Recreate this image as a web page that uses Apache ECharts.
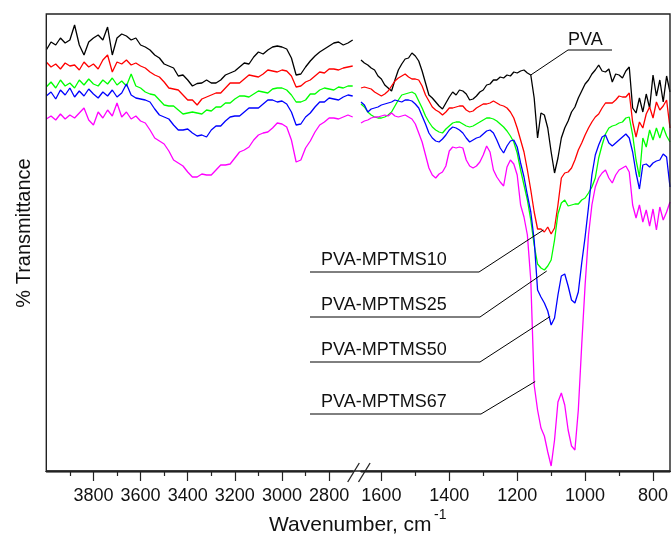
<!DOCTYPE html>
<html>
<head>
<meta charset="utf-8">
<script src="https://cdn.jsdelivr.net/npm/echarts@6/dist/echarts.min.js"></script>
<style>
  html, body { margin: 0; padding: 0; background: #fff; }
  #chart { width: 672px; height: 540px; }
</style>
</head>
<body>
<div id="chart"></div>
<script>
// wavenumbers (cm-1) for the two pieces of the broken axis
const wnLeft = [4000, 3980, 3960, 3940, 3920, 3900, 3880, 3860, 3840, 3820, 3800, 3780, 3760, 3740, 3720, 3700, 3680, 3660, 3640, 3620,
  3600, 3580, 3560, 3540, 3520, 3500, 3480, 3460, 3440, 3420, 3400, 3380, 3360, 3340, 3320, 3300, 3280, 3260, 3240, 3220,
  3200, 3180, 3160, 3140, 3120, 3100, 3080, 3060, 3040, 3020, 3000, 2980, 2960, 2940, 2920, 2900, 2880, 2860, 2840, 2820,
  2800, 2780, 2760, 2740, 2720, 2700];
const wnRight = [1660, 1650, 1640, 1630, 1620, 1610, 1600, 1590, 1580, 1570, 1560, 1550, 1540, 1530, 1520, 1510, 1500, 1490, 1480, 1470,
  1460, 1450, 1440, 1430, 1420, 1410, 1400, 1390, 1380, 1370, 1360, 1350, 1340, 1330, 1320, 1310, 1300, 1290, 1280, 1270,
  1260, 1250, 1240, 1230, 1220, 1210, 1200, 1190, 1180, 1170, 1160, 1150, 1140, 1130, 1120, 1110, 1100, 1090, 1080, 1070,
  1060, 1050, 1040, 1030, 1020, 1010, 1000, 990, 980, 970, 960, 950, 940, 930, 920, 910, 900, 890, 880, 870,
  860, 850, 840, 830, 820, 810, 800, 790, 780, 770, 760, 750];

// % transmittance (arbitrary offset scale)
const pvaLeft = [84.2, 85.8, 85.2, 86.6, 85.6, 86.2, 89.2, 85.2, 83.2, 85.8, 86.6, 87.2, 86.2, 88.8, 83.2, 86.6, 87.4, 87.0, 86.2, 86.6,
  85.2, 84.8, 84.2, 83.2, 82.6, 81.4, 81.0, 80.6, 79.0, 79.2, 78.2, 77.0, 77.5, 77.6, 78.2, 77.6, 77.6, 78.2, 79.2, 79.6,
  80.0, 80.8, 81.6, 81.4, 82.8, 83.8, 83.4, 84.2, 84.8, 85.0, 84.8, 84.4, 82.6, 79.2, 79.4, 80.8, 82.0, 83.0, 83.8, 84.4,
  85.0, 85.6, 85.8, 85.2, 85.6, 86.2];
const m10Left = [81.8, 80.8, 81.4, 80.4, 81.6, 81.0, 81.2, 80.2, 81.8, 80.8, 81.4, 80.4, 82.2, 83.2, 79.8, 81.8, 81.4, 82.2, 81.2, 81.6,
  81.0, 80.6, 79.8, 79.2, 78.8, 77.8, 76.6, 76.4, 76.2, 75.2, 74.2, 74.2, 73.2, 74.4, 74.8, 75.2, 75.6, 75.6, 76.6, 77.6,
  77.6, 77.6, 78.4, 79.2, 79.0, 78.8, 79.4, 80.2, 80.0, 79.8, 80.2, 80.0, 79.0, 76.8, 77.0, 77.8, 78.2, 79.0, 79.8, 79.6,
  80.4, 80.4, 80.2, 80.6, 80.8, 81.0];
const m25Left = [76.8, 77.8, 76.6, 78.2, 77.0, 77.6, 76.6, 78.2, 77.2, 78.4, 77.4, 77.0, 78.2, 77.4, 78.6, 77.2, 78.0, 77.0, 79.4, 77.0,
  76.6, 75.8, 75.4, 75.2, 74.2, 73.2, 73.0, 73.0, 72.2, 71.4, 71.6, 71.8, 71.6, 71.4, 72.2, 72.0, 72.8, 72.8, 73.6, 73.6,
  74.4, 75.0, 75.0, 74.8, 75.4, 76.0, 75.8, 75.6, 76.4, 76.6, 76.6, 76.2, 75.2, 73.8, 73.8, 74.2, 75.4, 75.4, 76.2, 76.6,
  76.4, 76.2, 76.8, 76.6, 77.0, 77.0];
const m50Left = [75.0, 75.8, 74.4, 76.2, 75.2, 76.6, 74.8, 76.0, 75.0, 76.4, 75.4, 74.6, 75.8, 75.0, 76.2, 74.8, 75.6, 77.4, 75.2, 74.6,
  74.4, 74.2, 73.8, 72.4, 71.2, 70.8, 70.4, 69.2, 68.2, 68.2, 68.4, 67.6, 67.0, 67.2, 66.8, 68.2, 69.0, 69.0, 70.0, 70.8,
  71.0, 71.0, 71.8, 72.6, 72.6, 72.6, 73.4, 74.2, 74.2, 73.8, 74.0, 73.4, 71.8, 69.2, 69.4, 70.8, 71.6, 72.8, 73.8, 73.8,
  74.6, 74.4, 74.2, 74.8, 75.2, 75.0];
const m67Left = [70.4, 71.0, 70.2, 71.4, 70.4, 71.2, 70.6, 71.6, 72.6, 70.2, 69.2, 71.8, 70.6, 72.2, 71.0, 73.6, 70.8, 71.8, 70.4, 71.0,
  70.0, 69.6, 68.2, 66.6, 66.0, 65.4, 64.0, 62.2, 61.6, 61.0, 59.8, 58.8, 58.8, 59.4, 59.2, 59.2, 60.2, 61.2, 61.2, 61.4,
  62.6, 63.8, 64.2, 64.8, 66.2, 67.2, 67.6, 67.8, 68.6, 69.6, 69.4, 68.8, 66.2, 61.8, 62.2, 64.6, 66.0, 67.8, 69.2, 69.8,
  70.6, 70.6, 70.4, 70.8, 71.2, 70.8];

const pvaRight = [82.2, 81.6, 81.2, 80.6, 80.2, 79.0, 78.4, 77.2, 76.6, 76.0, 78.2, 80.2, 81.4, 82.4, 82.6, 83.6, 83.0, 82.0, 80.0, 77.6,
  75.2, 74.6, 73.8, 73.0, 72.4, 73.6, 74.8, 75.8, 75.2, 76.2, 76.0, 75.4, 74.2, 74.4, 75.0, 75.8, 76.2, 77.2, 77.4, 78.2,
  78.2, 78.8, 78.6, 79.2, 79.0, 79.8, 79.6, 80.0, 80.2, 79.6, 79.2, 74.6, 66.6, 71.6, 71.2, 68.6, 63.8, 59.6, 62.6, 66.6,
  68.6, 70.0, 71.8, 72.8, 74.6, 76.0, 77.4, 78.2, 79.4, 80.2, 81.2, 80.0, 79.8, 80.4, 77.8, 79.4, 79.2, 78.6, 80.0, 80.8,
  72.6, 71.6, 74.6, 71.8, 75.4, 72.6, 79.2, 75.0, 78.2, 73.8, 79.0, 75.8];
const m10Right = [76.6, 76.8, 76.6, 76.4, 75.8, 75.4, 75.0, 75.4, 76.0, 77.0, 78.0, 78.6, 79.0, 79.4, 78.8, 78.4, 78.4, 78.2, 77.0, 75.2,
  74.0, 72.8, 72.2, 71.8, 71.2, 71.8, 72.6, 72.6, 72.8, 73.0, 73.0, 72.2, 71.8, 72.0, 72.6, 73.0, 73.4, 73.4, 73.6, 74.0,
  73.6, 73.2, 73.0, 72.6, 71.8, 70.6, 68.6, 66.2, 63.8, 60.2, 56.2, 51.8, 48.4, 48.4, 47.8, 48.8, 47.4, 48.6, 53.2, 58.6,
  59.6, 59.8, 60.6, 62.2, 64.2, 65.6, 67.2, 68.6, 69.8, 70.8, 71.4, 72.6, 73.6, 73.6, 73.6, 74.2, 75.0, 74.8, 74.8, 75.6,
  69.8, 66.8, 69.8, 68.6, 71.4, 72.8, 70.6, 73.8, 72.2, 73.0, 74.2, 68.6];
const m25Right = [73.4, 72.8, 71.8, 71.2, 70.8, 70.6, 70.6, 70.8, 71.2, 71.8, 73.0, 74.2, 75.2, 75.4, 75.6, 75.8, 75.4, 74.0, 72.6, 71.0,
  69.8, 68.8, 68.2, 67.8, 67.6, 68.4, 69.0, 69.6, 69.8, 69.8, 69.4, 69.0, 68.8, 69.0, 69.4, 69.8, 70.2, 70.6, 70.6, 70.4,
  70.0, 69.4, 68.8, 68.0, 67.0, 65.8, 63.6, 60.2, 57.2, 54.2, 50.2, 45.2, 41.4, 40.6, 40.2, 41.0, 42.2, 46.2, 51.4, 53.6,
  54.2, 53.0, 53.2, 53.4, 53.4, 54.2, 54.6, 55.6, 56.8, 58.6, 62.6, 65.2, 67.4, 68.6, 69.0, 69.2, 69.6, 69.8, 70.6, 70.8,
  67.2, 62.2, 58.8, 66.6, 64.8, 68.2, 66.2, 68.6, 66.6, 68.8, 67.0, 65.8];
const m50Right = [73.8, 73.2, 71.8, 72.4, 72.6, 72.8, 73.2, 73.4, 73.6, 73.8, 74.2, 74.0, 73.8, 74.2, 74.2, 74.0, 73.4, 72.6, 71.0, 69.4,
  67.6, 66.6, 66.0, 65.8, 66.4, 67.2, 68.2, 68.8, 68.6, 68.2, 67.6, 66.6, 65.8, 66.2, 66.6, 66.8, 67.4, 68.0, 68.2, 67.6,
  66.2, 64.6, 63.6, 65.0, 66.0, 66.2, 64.8, 61.6, 58.8, 55.2, 51.8, 46.2, 36.2, 34.8, 33.6, 32.0, 29.2, 30.6, 35.2, 39.0,
  39.4, 37.0, 34.2, 33.6, 35.8, 41.6, 46.8, 52.8, 59.2, 63.2, 65.2, 66.8, 67.2, 65.6, 65.0, 65.6, 66.2, 66.8, 67.4, 66.6,
  63.8, 59.6, 56.4, 61.2, 61.4, 60.8, 61.6, 62.0, 62.2, 63.4, 62.8, 56.8];
const m67Right = [69.6, 70.0, 70.2, 70.6, 70.8, 70.8, 71.0, 71.2, 71.0, 71.6, 71.0, 70.8, 71.0, 71.2, 70.8, 70.4, 69.4, 67.6, 65.8, 63.2,
  60.6, 59.2, 58.6, 59.4, 59.8, 61.0, 64.0, 64.8, 64.6, 64.8, 64.6, 62.2, 61.0, 60.6, 61.0, 61.8, 63.2, 65.0, 63.8, 60.2,
  58.8, 57.8, 57.0, 60.8, 62.2, 61.4, 59.2, 53.2, 50.8, 47.2, 38.2, 17.2, 12.2, 8.6, 7.0, 3.8, 1.0, 6.2, 13.8, 15.6,
  13.2, 8.2, 5.0, 4.2, 12.2, 25.2, 37.2, 47.2, 53.2, 56.8, 58.6, 59.6, 60.2, 58.6, 57.6, 59.2, 60.2, 60.6, 61.0, 59.8,
  53.2, 50.6, 53.2, 49.8, 52.2, 49.0, 52.4, 48.2, 52.8, 50.2, 51.8, 53.8];

const names = ['PVA', 'PVA-MPTMS10', 'PVA-MPTMS25', 'PVA-MPTMS50', 'PVA-MPTMS67'];
const colors = ['#000000', '#ff0000', '#00ff00', '#0000ff', '#ff00ff'];
const leftData = [pvaLeft, m10Left, m25Left, m50Left, m67Left];
const rightData = [pvaRight, m10Right, m25Right, m50Right, m67Right];

const majorLeft = [3800, 3600, 3400, 3200, 3000, 2800];
const minorLeft = [3900, 3700, 3500, 3300, 3100, 2900];
const majorRight = [1600, 1400, 1200, 1000, 800];
const minorRight = [1500, 1300, 1100, 900];

// where each leader line touches its curve: [wavenumber, transmittance]
const anchors = [[1160, 79.2], [1123, 48.2], [1113, 40.0], [1103, 30.9], [1147, 17.9]];

const FONT = '"Liberation Sans", Arial, sans-serif';
const chart = echarts.init(document.getElementById('chart'));

function pairs(xs, ys) {
  return xs.map((x, i) => [x, ys[i]]);
}

// one axis draws the labels, two more draw the long and the short ticks
function labelAxis(grid, min, max, ticks) {
  return {
    type: 'value', gridIndex: grid, position: 'bottom', min: min, max: max, inverse: true,
    axisLine: { show: true, onZero: false, lineStyle: { color: '#222', width: 1.4 } },
    splitLine: { show: false },
    axisTick: { show: false },
    axisLabel: { show: true, customValues: ticks, margin: 16, color: '#111', fontSize: 18, fontFamily: FONT,
      formatter: (v) => String(v) }
  };
}
function tickAxis(grid, min, max, ticks, len) {
  return {
    type: 'value', gridIndex: grid, position: 'bottom', min: min, max: max, inverse: true,
    axisLine: { show: true, onZero: false, lineStyle: { color: '#222', width: 1.4 } },
    splitLine: { show: false },
    axisTick: { show: true, inside: false, customValues: ticks, length: len, lineStyle: { color: '#222', width: 1.2 } },
    axisLabel: { show: false }
  };
}

const series = [];
names.forEach((n, i) => {
  series.push({
    name: n, type: 'line', xAxisIndex: 0, yAxisIndex: 0, data: pairs(wnLeft, leftData[i]),
    showSymbol: false, lineStyle: { color: colors[i], width: 1.3 }, z: 2
  });
  series.push({
    name: n, type: 'line', xAxisIndex: 3, yAxisIndex: 1, data: pairs(wnRight, rightData[i]),
    showSymbol: false, lineStyle: { color: colors[i], width: 1.3 }, z: 2
  });
});

const yAx = (g) => ({
  type: 'value', gridIndex: g, min: 0, max: 91.4,
  axisLine: { show: false }, axisTick: { show: false }, axisLabel: { show: false }, splitLine: { show: false }
});

chart.setOption({
  animation: false,
  backgroundColor: '#fff',
  grid: [
    { left: 46.3, top: 14, width: 306.4, height: 457 },
    { left: 361, top: 14, width: 309, height: 457 }
  ],
  xAxis: [
    labelAxis(0, 2700, 4000, majorLeft),
    tickAxis(0, 2700, 4000, majorLeft, 10),
    tickAxis(0, 2700, 4000, minorLeft, 5),
    labelAxis(1, 750, 1660, majorRight),
    tickAxis(1, 750, 1660, majorRight, 10),
    tickAxis(1, 750, 1660, minorRight, 5)
  ],
  yAxis: [yAx(0), yAx(1)],
  series: series
});

// annotations: label text, underline and leader line
const labelBoxes = [
  { x: 568, y: 40, x1: 568, x2: 612, ly: 50, from: 'left' },
  { x: 321, y: 260, x1: 310, x2: 479, ly: 272, from: 'right' },
  { x: 321, y: 305, x1: 310, x2: 480, ly: 317, from: 'right' },
  { x: 321, y: 350, x1: 310, x2: 480, ly: 362, from: 'right' },
  { x: 321, y: 402, x1: 310, x2: 481, ly: 414, from: 'right' }
];
const lineStyle = { stroke: '#000', lineWidth: 1 };
const graphic = [
  { type: 'rect', shape: { x: 46.3, y: 14, width: 623.7, height: 457 }, style: { fill: null, stroke: '#222', lineWidth: 1.4 }, z: 10 },
  { type: 'line', shape: { x1: 347.7, y1: 482, x2: 359.3, y2: 463 }, style: { stroke: '#222', lineWidth: 1.3 }, z: 10 },
  { type: 'line', shape: { x1: 358.5, y1: 482, x2: 370.1, y2: 463 }, style: { stroke: '#222', lineWidth: 1.3 }, z: 10 },
  { type: 'text', x: 24.5, y: 233, rotation: Math.PI / 2,
    style: { text: '% Transmittance', font: '20px ' + FONT, fill: '#111', textAlign: 'center', textVerticalAlign: 'middle' } },
  { type: 'text', x: 269, y: 525,
    style: { text: 'Wavenumber, cm', font: '21px ' + FONT, fill: '#111', textAlign: 'left', textVerticalAlign: 'middle' } },
  { type: 'text', x: 434, y: 515,
    style: { text: '-1', font: '14px ' + FONT, fill: '#111', textAlign: 'left', textVerticalAlign: 'middle' } }
];
labelBoxes.forEach((b, i) => {
  const p = chart.convertToPixel({ xAxisIndex: 3, yAxisIndex: 1 }, anchors[i]);
  const sx = b.from === 'left' ? b.x1 : b.x2;
  graphic.push({ type: 'text', x: b.x, y: b.y, z: 11,
    style: { text: names[i], font: '18px ' + FONT, fill: '#111', textAlign: 'left', textVerticalAlign: 'middle' } });
  graphic.push({ type: 'line', z: 11, shape: { x1: b.x1, y1: b.ly, x2: b.x2, y2: b.ly }, style: lineStyle });
  graphic.push({ type: 'line', z: 11, shape: { x1: sx, y1: b.ly, x2: p[0], y2: p[1] }, style: lineStyle });
});
chart.setOption({ graphic: graphic });
</script>
</body>
</html>
